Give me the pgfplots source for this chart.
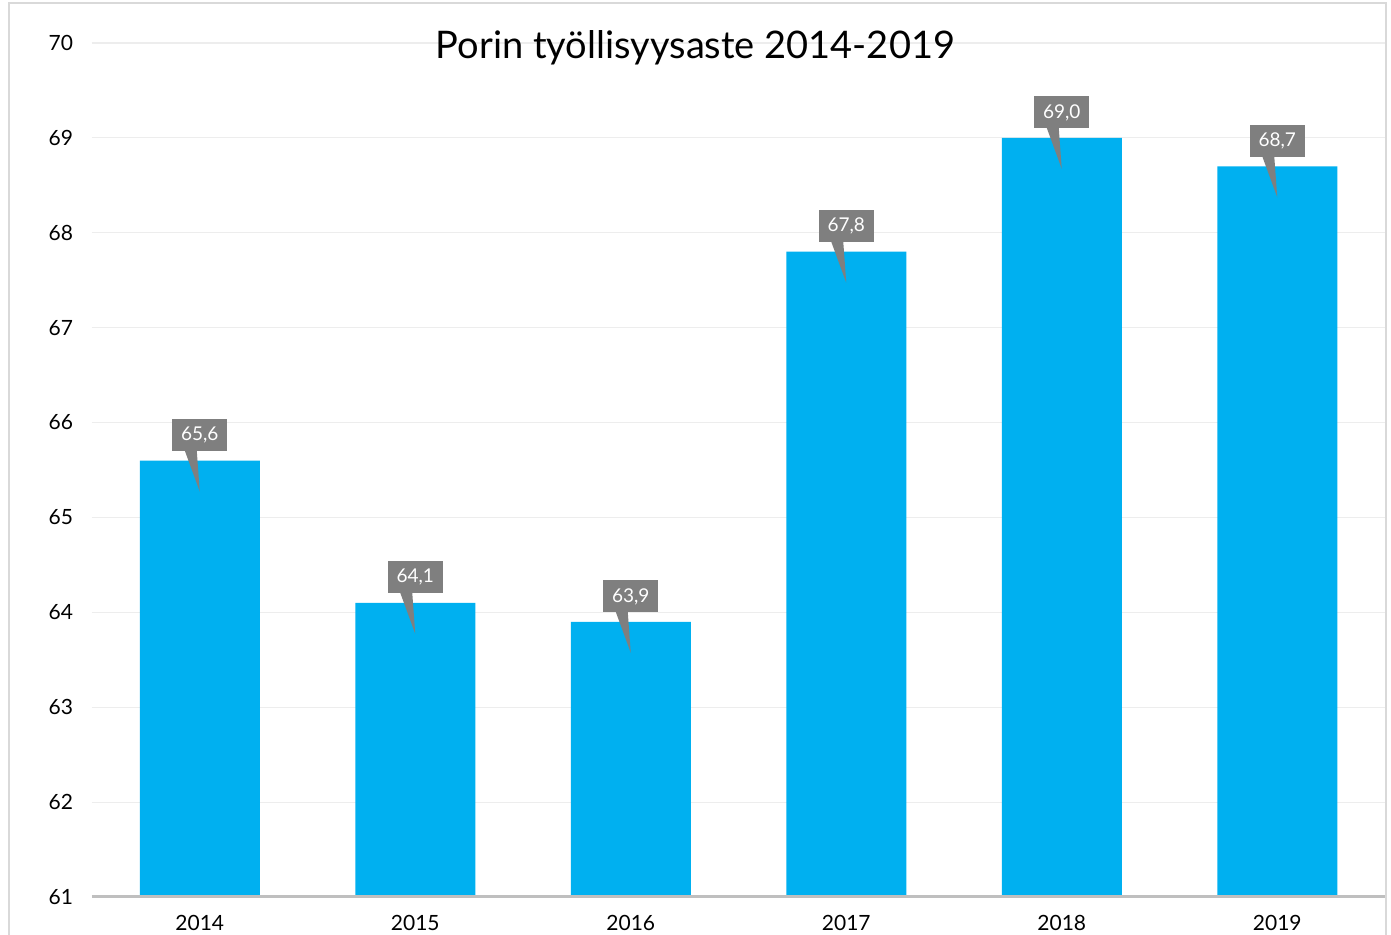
\documentclass[border=0pt]{standalone}
\usepackage{pgfplots}
\pgfplotsset{compat=1.18}
\usepackage{fontspec}
\setmainfont{Lato}
\definecolor{barblue}{HTML}{00B0F0}
\definecolor{lblgray}{HTML}{7F7F7F}
\definecolor{gridgray}{HTML}{EDEDED}
\definecolor{axgray}{HTML}{BFBFBF}
\definecolor{bordergray}{HTML}{D9D9D9}
\pgfdeclareplotmark{callout}{%
  \pgfpathmoveto{\pgfpoint{-7.5pt}{5pt}}%
  \pgfpathlineto{\pgfpoint{-1.5pt}{5pt}}%
  \pgfpathlineto{\pgfpoint{0pt}{-15.5pt}}%
  \pgfpathclose
  \pgfusepathqfill}
\begin{document}
\begin{tikzpicture}
\clip (-46pt,-19pt) rectangle (649.5pt,448.5pt);
\fill[white] (-46pt,-19pt) rectangle (649.5pt,448.5pt);
\draw[bordergray, line width=1pt] (-41.5pt,-40pt) rectangle (647pt,447pt);
\begin{axis}[
  at={(0pt,0pt)}, anchor=south west,
  scale only axis,
  width=646.5pt, height=427pt,
  xmin=-0.5, xmax=5.5,
  ymin=61, ymax=70,
  ytick={61,62,...,70},
  xtick={0,1,2,3,4,5},
  xticklabels={2014,2015,2016,2017,2018,2019},
  axis x line*=bottom,
  axis y line=none,
  hide y axis=false,
  ymajorgrids,
  grid style={gridgray, line width=0.6pt},
  major tick length=0pt,
  tick style={draw=none},
  axis line style={draw=none},
  /pgf/number format/assume math mode=true,
  ticklabel style={font=\fontsize{10.5}{12}\selectfont, text=black},
  yticklabel style={xshift=-6pt},
  xticklabel style={yshift=-5.5pt},
  clip=false,
]
\addplot[ybar, bar width=60pt, fill=barblue, draw=none] coordinates {
  (0,65.6) (1,64.1) (2,63.9) (3,67.8) (4,69.0) (5,68.7)
};
\addplot[only marks, mark=callout, mark options={fill=lblgray, draw=none},
  nodes near coords,
  nodes near coords style={
    /pgf/number format/.cd, use comma, fixed, fixed zerofill, precision=1,
    /tikz/.cd,
    anchor=south, yshift=4.5pt, fill=lblgray, text=white,
    font=\fontsize{9.5}{10}\selectfont, inner xsep=4.5pt,
    minimum height=16pt, inner ysep=0pt},
] coordinates {
  (0,65.6) (1,64.1) (2,63.9) (3,67.8) (4,69.0) (5,68.7)
};
\draw[axgray, line width=1.5pt] (rel axis cs:0,0) -- (rel axis cs:1,0);
\end{axis}
\node[font=\fontsize{19}{21}\selectfont] at (301.75pt,424.5pt) {Porin työllisyysaste 2014-2019};
\end{tikzpicture}
\end{document}
